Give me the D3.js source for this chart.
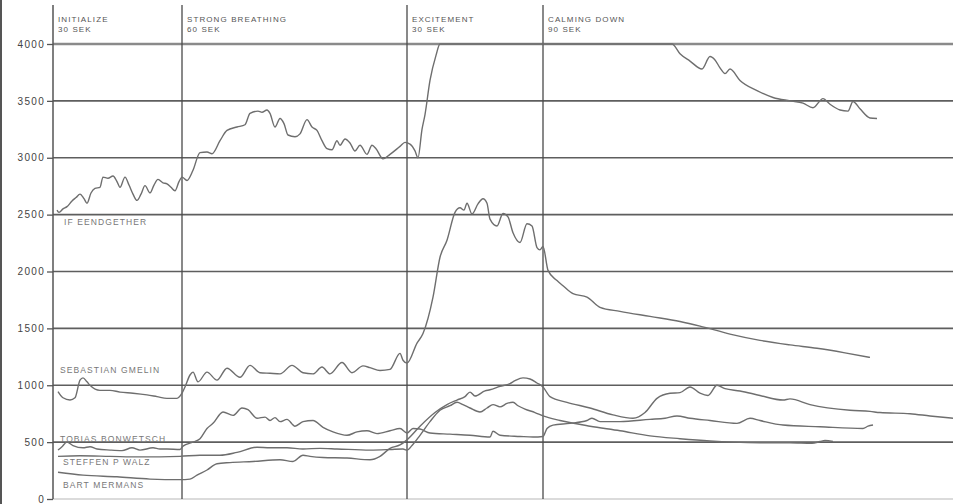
<!DOCTYPE html>
<html>
<head>
<meta charset="utf-8">
<script src="https://cdn.jsdelivr.net/npm/d3@7"></script>
<style>
  body { margin: 0; background: #fff; }
  svg { display: block; }
  text { font-family: "Liberation Sans", Arial, sans-serif; }
</style>
</head>
<body>
<svg id="chart" width="953" height="504"></svg>
<script>
// Session phases: name, length, start time (s)
const phaseNames = ["INITIALIZE", "STRONG BREATHING", "EXCITEMENT", "CALMING DOWN"];
const phaseLengths = ["30 SEK", "60 SEK", "30 SEK", "90 SEK"];
const phaseStarts = [0, 32.25, 88.5, 122.5];

// Sensor value axis
const yTicks = [0, 500, 1000, 1500, 2000, 2500, 3000, 3500, 4000];

// Participants
const names = ["IF EENDGETHER", "SEBASTIAN GMELIN", "TOBIAS BONWETSCH", "STEFFEN P WALZ", "BART MERMANS"];

// Readings per participant: [time (s), value]
const ifEendgether = [
  [1,2540],[1.5,2520],[2.5,2550],[3.5,2570],[4.75,2620],[5.75,2650],[6.75,2680],[7.75,2640],
  [8.5,2600],[9.5,2690],[10.5,2730],[11.75,2740],[12.5,2830],[13.75,2820],[15,2840],[16,2790],
  [16.75,2740],[18,2830],[19,2760],[20,2680],[21,2625],[22,2680],[23,2755],[24.25,2690],
  [25.25,2760],[26.25,2810],[27.5,2780],[28.5,2770],[29.5,2740],[30.5,2710],[31.5,2790],
  [32.25,2830],[33.5,2800],[35,2890],[36.75,3045],[38.5,3050],[39.75,3035],[41.75,3150],
  [43.5,3240],[46,3270],[48,3290],[49.25,3390],[51.25,3410],[52.25,3400],[53.5,3420],
  [54.25,3390],[55.5,3270],[56.75,3345],[57.75,3300],[58.75,3200],[60.5,3185],[61.75,3210],
  [63.5,3335],[64.75,3270],[66,3240],[67.25,3150],[68.5,3080],[69.75,3070],[71,3150],
  [71.75,3110],[73,3165],[74.25,3130],[75.5,3060],[76.75,3110],[78.5,3030],[79.75,3110],
  [80.75,3080],[82.5,2990],[84.25,3030],[86.75,3100],[88,3135],[89.25,3120],[90.5,3060],
  [91.25,3000],[92.25,3250],[93,3380],[94.25,3680],[95.75,3900],[96.75,4000],[120,4000],
  [154.75,4000],[156.75,3915],[159.25,3850],[162.25,3780],[164.25,3890],[165.5,3860],
  [166.75,3790],[168,3740],[169.25,3780],[171.75,3680],[176,3590],[180,3530],[184.25,3500],
  [187.5,3480],[190,3440],[192.5,3520],[194.25,3470],[196.75,3420],[198.75,3410],[200,3495],
  [201.75,3430],[204.25,3350],[206,3345]
];
const sebastianGmelin = [
  [1.25,945],[2.5,890],[4.25,870],[5.5,890],[6.75,1045],[7.5,1065],[8.5,1030],[9.25,1000],
  [11.75,955],[14.25,955],[16.75,940],[20,930],[23.5,915],[26,900],[28.5,885],[31,885],
  [32.25,930],[33,985],[34.25,1090],[35,1115],[36.25,1030],[38.5,1115],[41,1045],[43.5,1150],
  [46.75,1070],[49.25,1175],[51.75,1110],[54.25,1105],[56.75,1100],[59.75,1175],[62.5,1110],
  [65,1100],[67.25,1160],[69.25,1100],[72.25,1200],[74.75,1110],[77.5,1170],[79.25,1155],
  [81.75,1130],[84.25,1140],[86.75,1280],[87.5,1220],[88.5,1195],[91,1370],[92.5,1455],
  [95,1775],[96.75,2125],[98.5,2275],[100.5,2520],[101.75,2560],[102.75,2540],[103.5,2600],
  [104.75,2505],[106.25,2595],[107.5,2640],[108.5,2600],[109.25,2460],[111,2400],[112.5,2510],
  [113.75,2480],[115,2340],[116.75,2255],[118.5,2420],[119.75,2400],[121,2210],[121.75,2190],
  [122.5,2220],[123.75,2010],[126,1920],[127.5,1875],[130,1805],[133.5,1775],[136.75,1685],
  [141.75,1650],[149.25,1605],[156.75,1560],[161.75,1520],[169.25,1450],[176.75,1395],
  [184.25,1355],[191,1325],[198,1285],[204.25,1245]
];
const tobiasBonwetsch = [
  [1.25,430],[2.25,460],[3.5,500],[5,470],[7.5,450],[9.25,460],[11,440],[14.25,430],
  [17.25,425],[19.75,450],[21.75,430],[25,450],[26.75,440],[28.5,440],[31.75,435],
  [32.5,465],[35,500],[36.75,530],[38.5,620],[40,665],[42.5,765],[45,735],[47.25,800],
  [48.75,785],[51,710],[53,720],[54.25,690],[55.5,715],[56.75,680],[58.5,700],[60.5,640],
  [62.5,680],[65,690],[67.5,630],[70,590],[73.5,560],[76,590],[78.5,600],[81,575],
  [84.25,600],[86.75,620],[88.5,580],[90,620],[91.75,615],[94.25,580],[99.25,570],
  [104.25,560],[109.25,545],[110,595],[111.75,560],[116.75,550],[120,545],[122.5,550],
  [123.5,620],[125,650],[129.25,665],[133.5,690],[134.75,710],[136.75,680],[141.75,680],
  [149.25,700],[153,710],[156,730],[159.25,710],[164.25,690],[171,665],[174.25,710],
  [176.75,690],[182.5,650],[191.75,635],[202.5,620],[203.75,640],[205,650]
];
const steffenWalz = [
  [1.25,375],[6.75,380],[14.25,375],[21.75,370],[31.75,375],[36.75,385],[41.75,385],
  [46,410],[51,455],[54.25,450],[58.5,450],[62.5,440],[66.75,445],[71,440],[79.25,430],
  [84.25,435],[87.5,440],[88.5,430],[89.75,470],[91.75,560],[94.25,680],[96.75,780],
  [99.25,820],[101,850],[102.5,830],[104.25,800],[106.75,765],[108.5,800],[110,830],
  [111.75,810],[113.5,840],[115,850],[116.25,820],[118,790],[120.5,760],[122.5,730],
  [126.75,690],[134.25,640],[141.75,600],[149.25,555],[156.75,530],[164.25,510],[170,500],
  [176.75,495],[184.25,495],[189.75,490],[191.75,505],[193,515],[195,505]
];
const bartMermans = [
  [1.25,235],[7.5,210],[16,195],[24.25,175],[31.75,170],[34.25,175],[36,210],[38.5,255],
  [41,310],[44.25,320],[50,330],[56.75,345],[60,330],[62.5,385],[64.25,375],[67.5,365],
  [73.5,360],[79.25,345],[81.75,375],[84.25,445],[86.75,475],[88.5,520],[91.75,640],
  [95.5,760],[98.5,830],[101,870],[103,900],[104.25,940],[105.5,905],[108,950],[109.25,960],
  [111.75,990],[114.25,1015],[115.5,1040],[117.5,1065],[119.25,1055],[121,1020],[122.5,985],
  [124.25,900],[128.5,850],[134.25,800],[140,740],[145,710],[148,760],[151,885],[154.25,930],
  [156.75,935],[159.25,985],[161.75,930],[163.75,910],[166,1000],[168,970],[171.75,950],
  [176.75,910],[182.5,870],[184.25,880],[189.25,830],[199.25,780],[204.25,770],[206.75,760],
  [214.25,750],[219.25,730],[225,710]
];
const seriesData = [ifEendgether, sebastianGmelin, tobiasBonwetsch, steffenWalz, bartMermans];

// ---- layout ----
const W = 953, H = 504;
const plotLeft = 53, plotRight = 953, plotTop = 5, plotBottom = 499;
const svg = d3.select("#chart");

const x = d3.scaleLinear().domain([0, 225]).range([plotLeft, plotRight]);
const y = d3.scaleLinear().domain([0, 4000]).range([plotBottom, 44]);

// outer frame edge on the left
svg.append("line").attr("x1", 1).attr("x2", 1).attr("y1", 0).attr("y2", H)
  .attr("stroke", "#555").attr("stroke-width", 2);

// baseline
svg.append("line").attr("x1", plotLeft).attr("x2", plotRight).attr("y1", y(0)).attr("y2", y(0))
  .attr("stroke", "#cfcfcf").attr("stroke-width", 1.5);

// horizontal gridlines
svg.append("g").selectAll("line").data(yTicks.filter(d => d > 0)).join("line")
  .attr("x1", plotLeft).attr("x2", plotRight)
  .attr("y1", d => y(d)).attr("y2", d => y(d))
  .attr("stroke", d => d === 4000 ? "#8a8a8a" : "#5e5e5e")
  .attr("stroke-width", d => d === 4000 ? 2.4 : 1.6);

// phase boundaries
svg.append("g").selectAll("line").data(phaseStarts.slice(1)).join("line")
  .attr("x1", d => x(d)).attr("x2", d => x(d))
  .attr("y1", plotTop).attr("y2", plotBottom)
  .attr("stroke", "#4a4a4a").attr("stroke-width", 1.3);

// y axis
const yAxis = d3.axisLeft(y).tickValues(yTicks).tickFormat(d3.format("d"))
  .tickSize(6).tickPadding(3);
const ga = svg.append("g").attr("transform", `translate(${plotLeft},0)`).call(yAxis);
ga.select(".domain").remove();
ga.selectAll(".tick line").attr("stroke", "#555").attr("stroke-width", 1.3);
ga.selectAll(".tick text").attr("fill", "#444").attr("font-size", 10)
  .attr("letter-spacing", 1.3).attr("dx", 1);
svg.append("line").attr("x1", plotLeft).attr("x2", plotLeft).attr("y1", plotTop).attr("y2", plotBottom)
  .attr("stroke", "#555").attr("stroke-width", 1.5);

// phase captions
const cap = svg.append("g").selectAll("text").data(phaseNames).join("text")
  .attr("x", (d, i) => x(phaseStarts[i]) + 5)
  .attr("y", 22)
  .attr("font-size", 8).attr("letter-spacing", 1.1).attr("fill", "#555");
cap.append("tspan").text(d => d);
cap.append("tspan").attr("x", (d, i) => x(phaseStarts[i]) + 5).attr("dy", 10)
  .text((d, i) => phaseLengths[i]);

// participant traces
const line = d3.line().x(d => x(d[0])).y(d => y(d[1])).curve(d3.curveMonotoneX);
svg.append("g").selectAll("path").data(seriesData).join("path")
  .attr("d", line)
  .attr("fill", "none")
  .attr("stroke", "#6e6e6e")
  .attr("stroke-width", 1.4)
  .attr("stroke-linejoin", "round");

// participant names, placed beside the start of each trace
const nameAnchors = [2410, 1108, 502, 300, 96];
const nameOffsets = [2.75, 1.75, 1.75, 2.5, 2.5];
svg.append("g").selectAll("text").data(names).join("text")
  .attr("x", (d, i) => x(nameOffsets[i]))
  .attr("y", (d, i) => y(nameAnchors[i]))
  .attr("font-size", 8.5).attr("letter-spacing", 1.1).attr("fill", "#777")
  .text(d => d);
</script>
</body>
</html>
